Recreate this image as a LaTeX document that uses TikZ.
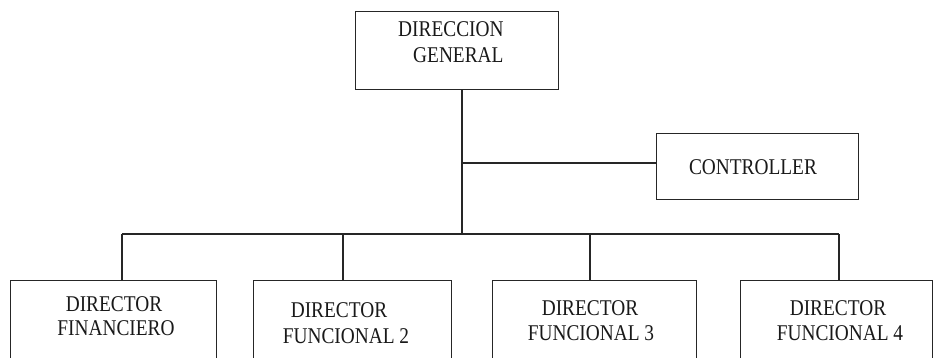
\documentclass[tikz,border=0pt]{standalone}
\usepackage{fontspec}
\setmainfont{Liberation Serif}[FakeStretch=0.86]
\begin{document}
\begin{tikzpicture}[x=1pt,y=-1pt,
  box/.style={draw=black!85, line width=1.2pt, inner sep=0pt, anchor=north west},
  conn/.style={draw=black!85, line width=1.2pt},
  lbl/.style={font=\fontsize{22.5}{25}\selectfont, text=black!90, inner sep=0pt, anchor=base},
  lbll/.style={lbl, anchor=base west}]
\useasboundingbox (0,0) rectangle (933,358);
\clip (0,0) rectangle (933,358);
% boxes
\node[box, minimum width=203pt, minimum height=78pt] (dg) at (355,11) {};
\node[box, minimum width=202pt, minimum height=66pt] (ctrl) at (656,133) {};
\node[box, minimum width=206pt, minimum height=110pt] (fin) at (10,280) {};
\node[box, minimum width=198pt, minimum height=110pt] (f2) at (253,280) {};
\node[box, minimum width=204pt, minimum height=110pt] (f3) at (492,280) {};
\node[box, minimum width=192pt, minimum height=110pt] (f4) at (740,280) {};
% texts
\node[lbll] (dgA) at (398,36.7) {DIRECCION};
\node[lbll] (dgB) at (413,63) {GENERAL};
\node[lbl] (ctrlA) at (753,174.3) {CONTROLLER};
\node[lbl] (finA) at (114,311) {DIRECTOR};
\node[lbl] (finB) at (116,335) {FINANCIERO};
\node[lbl] (f2A) at (339,317) {DIRECTOR};
\node[lbl] (f2B) at (346,343) {FUNCIONAL 2};
\node[lbl] (f3A) at (590,315) {DIRECTOR};
\node[lbl] (f3B) at (591,340) {FUNCIONAL 3};
\node[lbl] (f4A) at (838,315) {DIRECTOR};
\node[lbl] (f4B) at (840,340) {FUNCIONAL 4};
% connectors
\coordinate (j) at (462,163);
\coordinate (b) at (462,234);
\coordinate (d1) at (122,234);
\coordinate (d2) at (343,234);
\coordinate (d3) at (590,234);
\coordinate (d4) at (839,234);
\draw[conn] (dg.south -| j) -- (b);
\draw[conn] (j) -- (j -| ctrl.west);
\draw[conn] (d1) -- (d4);
\draw[conn] (d1) -- (d1 |- fin.north);
\draw[conn] (d2) -- (d2 |- f2.north);
\draw[conn] (d3) -- (d3 |- f3.north);
\draw[conn] (d4) -- (d4 |- f4.north);
\end{tikzpicture}
\end{document}
